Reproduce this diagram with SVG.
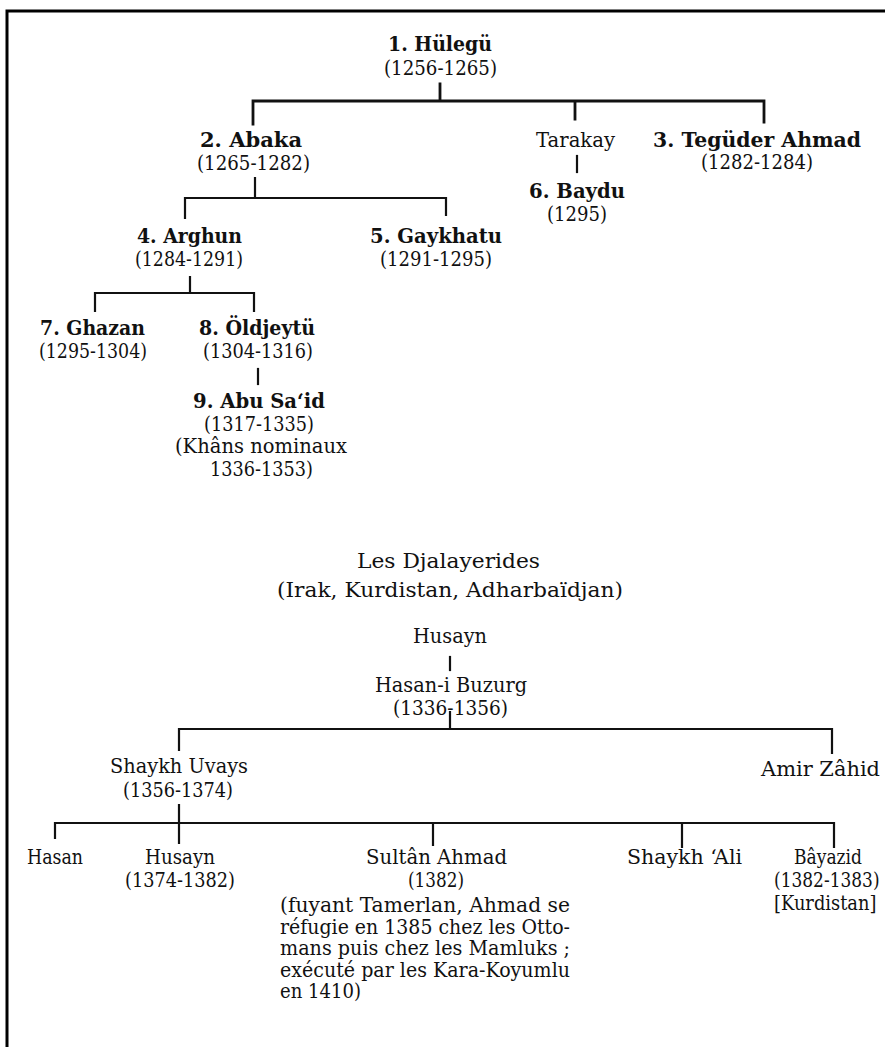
<svg xmlns="http://www.w3.org/2000/svg" width="885" height="1047" viewBox="0 0 885 1047">
<style>
text{font-family:"DejaVu Serif","Liberation Serif",serif;font-size:21px;fill:#111}
.b{font-weight:bold}
.p{font-size:19.5px}
.ln{stroke:#111;stroke-width:2.2;fill:none;stroke-linecap:square}
.th{stroke-width:2.8}
.fr{stroke:#000;stroke-width:3;fill:none}
</style>
<rect width="885" height="1047" fill="#fff"/>
<path class="fr" d="M7 1047 V11 H885"/>
<g id="connectors">
<path class="ln th" d="M440 84 V101 M253 101 H764 M253 101 V124 M575 101 V119 M764 101 V122"/>
<path class="ln" d="M577 156 V172"/>
<path class="ln" d="M255 178 V198 M185 198 H446 M185 198 V218 M446 198 V215"/>
<path class="ln" d="M190 277 V293 M95 293 H254 M95 293 V311 M254 293 V311"/>
<path class="ln" d="M258 369 V384"/>
<path class="ln" d="M450 657 V670"/>
<path class="ln" d="M450 712 V729 M179 729 H832 M179 729 V750 M832 729 V753"/>
<path class="ln" d="M179 805 V843 M55 823 H834 M55 823 V838 M433 823 V845 M682 823 V847 M834 823 V847"/>
</g>
<g id="hulegu"><text class="b" x="388" y="51" textLength="104" lengthAdjust="spacingAndGlyphs">1. Hülegü</text><text x="384" y="75" textLength="113" lengthAdjust="spacingAndGlyphs">(1256-1265)</text></g>
<g id="abaka"><text class="b" x="200" y="147" textLength="102" lengthAdjust="spacingAndGlyphs">2. Abaka</text><text x="197" y="170" textLength="113" lengthAdjust="spacingAndGlyphs">(1265-1282)</text></g>
<g id="tarakay"><text x="536" y="147" textLength="79" lengthAdjust="spacingAndGlyphs">Tarakay</text></g>
<g id="teguder"><text class="b" x="653" y="147" textLength="208" lengthAdjust="spacingAndGlyphs">3. Tegüder Ahmad</text><text x="701" y="169" textLength="112" lengthAdjust="spacingAndGlyphs">(1282-1284)</text></g>
<g id="baydu"><text class="b" x="529" y="198" textLength="96" lengthAdjust="spacingAndGlyphs">6. Baydu</text><text x="547" y="221" textLength="60" lengthAdjust="spacingAndGlyphs">(1295)</text></g>
<g id="arghun"><text class="b" x="137" y="243" textLength="105" lengthAdjust="spacingAndGlyphs">4. Arghun</text><text x="135" y="266" textLength="108" lengthAdjust="spacingAndGlyphs">(1284-1291)</text></g>
<g id="gaykhatu"><text class="b" x="370" y="243" textLength="132" lengthAdjust="spacingAndGlyphs">5. Gaykhatu</text><text x="380" y="266" textLength="112" lengthAdjust="spacingAndGlyphs">(1291-1295)</text></g>
<g id="ghazan"><text class="b" x="40" y="335" textLength="105" lengthAdjust="spacingAndGlyphs">7. Ghazan</text><text x="39" y="358" textLength="108" lengthAdjust="spacingAndGlyphs">(1295-1304)</text></g>
<g id="oldjeytu"><text class="b" x="199" y="335" textLength="116" lengthAdjust="spacingAndGlyphs">8. Öldjeytü</text><text x="203" y="358" textLength="110" lengthAdjust="spacingAndGlyphs">(1304-1316)</text></g>
<g id="abusaid"><text class="b" x="193" y="408" textLength="132" lengthAdjust="spacingAndGlyphs">9. Abu Sa‘id</text><text x="204" y="431" textLength="110" lengthAdjust="spacingAndGlyphs">(1317-1335)</text><text x="175" y="453" textLength="172" lengthAdjust="spacingAndGlyphs">(Khâns nominaux</text><text x="210" y="476" textLength="103" lengthAdjust="spacingAndGlyphs">1336-1353)</text></g>
<g id="title"><text x="357" y="568" textLength="183" lengthAdjust="spacingAndGlyphs">Les Djalayerides</text><text x="277" y="597" textLength="346" lengthAdjust="spacingAndGlyphs">(Irak, Kurdistan, Adharbaïdjan)</text></g>
<g id="husayn1"><text x="413" y="643" textLength="74" lengthAdjust="spacingAndGlyphs">Husayn</text></g>
<g id="hasanbuzurg"><text x="375" y="692" textLength="152" lengthAdjust="spacingAndGlyphs">Hasan-i Buzurg</text><text x="393" y="715" textLength="115" lengthAdjust="spacingAndGlyphs">(1336-1356)</text></g>
<g id="uvays"><text x="110" y="773" textLength="138" lengthAdjust="spacingAndGlyphs">Shaykh Uvays</text><text x="123" y="797" textLength="110" lengthAdjust="spacingAndGlyphs">(1356-1374)</text></g>
<g id="amirzahid"><text x="761" y="776" textLength="119" lengthAdjust="spacingAndGlyphs">Amir Zâhid</text></g>
<g id="hasan"><text x="27" y="864" textLength="56" lengthAdjust="spacingAndGlyphs">Hasan</text></g>
<g id="husayn2"><text x="145" y="864" textLength="70" lengthAdjust="spacingAndGlyphs">Husayn</text><text x="125" y="887" textLength="110" lengthAdjust="spacingAndGlyphs">(1374-1382)</text></g>
<g id="sultanahmad"><text x="366" y="864" textLength="141" lengthAdjust="spacingAndGlyphs">Sultân Ahmad</text><text x="408" y="887" textLength="56" lengthAdjust="spacingAndGlyphs">(1382)</text>
<text class="p" x="280" y="912" textLength="290" lengthAdjust="spacingAndGlyphs">(fuyant Tamerlan, Ahmad se</text>
<text class="p" x="280" y="933.5" textLength="290" lengthAdjust="spacingAndGlyphs">réfugie en 1385 chez les Otto-</text>
<text class="p" x="280" y="955" textLength="290" lengthAdjust="spacingAndGlyphs">mans puis chez les Mamluks ;</text>
<text class="p" x="280" y="976.5" textLength="290" lengthAdjust="spacingAndGlyphs">exécuté par les Kara-Koyumlu</text>
<text class="p" x="280" y="998" textLength="81" lengthAdjust="spacingAndGlyphs">en 1410)</text></g>
<g id="shaykhali"><text x="627" y="864" textLength="115" lengthAdjust="spacingAndGlyphs">Shaykh ‘Ali</text></g>
<g id="bayazid"><text x="794" y="864" textLength="68" lengthAdjust="spacingAndGlyphs">Bâyazid</text><text transform="translate(774 887) scale(0.81 1)" x="0" y="0">(1382-1383)</text><text transform="translate(774 910) scale(0.85 1)" x="0" y="0">[Kurdistan]</text></g>
</svg>
